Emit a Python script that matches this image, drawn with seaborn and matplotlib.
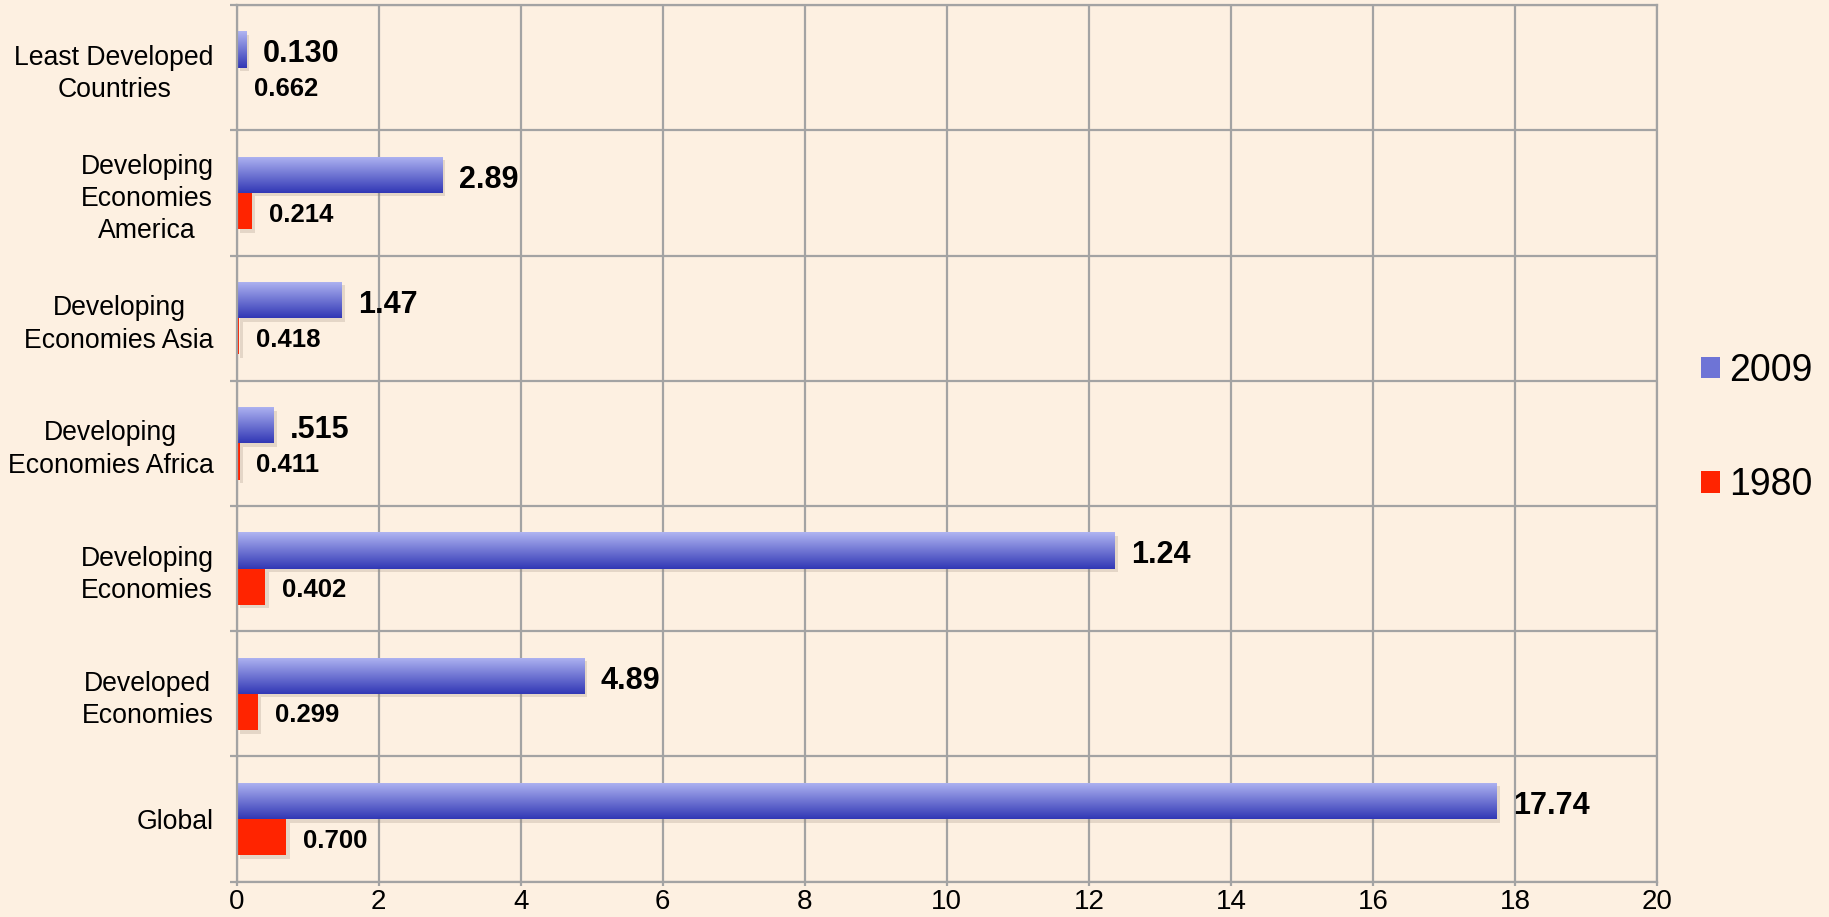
import numpy as np
import pandas as pd
import matplotlib
matplotlib.use("Agg")
import matplotlib.pyplot as plt
import seaborn as sns
from matplotlib.colors import LinearSegmentedColormap
from matplotlib.patches import Patch
import matplotlib.patheffects as pe

categories = ["Least Developed\nCountries", "Developing\nEconomies\nAmerica",
              "Developing\nEconomies Asia", "Developing\nEconomies Africa",
              "Developing\nEconomies", "Developed\nEconomies", "Global"]
values_2009 = [0.130, 2.89, 1.47, 0.515, 12.36, 4.89, 17.74]
values_1980 = [0.005, 0.214, 0.036, 0.040, 0.402, 0.299, 0.700]
labels_2009 = ["0.130", "2.89", "1.47", ".515", "1.24", "4.89", "17.74"]
labels_1980 = ["0.662", "0.214", "0.418", "0.411", "0.402", "0.299", "0.700"]
series = ["2009", "1980"]
x_ticks = [0, 2, 4, 6, 8, 10, 12, 14, 16, 18, 20]

BG = "#FDF0E1"
GRID = "#A3A3A3"
RED = "#FF2400"
BLUE_TOP = "#B0B5F2"
BLUE_BOT = "#3137B5"
BLUE_MID = "#6E74D6"

df = pd.DataFrame({
    "category": categories * 2,
    "value": values_2009 + values_1980,
    "year": ["2009"] * len(categories) + ["1980"] * len(categories),
})

sns.set_theme(style="white")
plt.rcParams["font.family"] = ["Liberation Sans", "DejaVu Sans"]
plt.rcParams["text.color"] = "black"

fig = plt.figure(figsize=(18.29, 9.17), dpi=100, facecolor=BG)
ax = fig.add_axes([0.1294, 0.0385, 0.9060 - 0.1294, 0.9945 - 0.0385])
ax.set_facecolor(BG)

sns.barplot(data=df, y="category", x="value", hue="year", hue_order=series,
            order=categories, orient="h", palette=[BLUE_MID, RED],
            width=0.58, gap=0, dodge=True, errorbar=None, ax=ax,
            legend=False, saturation=1, linewidth=0)

ax.set_xlim(0, 20)
ax.set_ylim(len(categories) - 0.5, -0.5)

cmap = LinearSegmentedColormap.from_list("bl", [BLUE_TOP, BLUE_BOT])
grad = np.linspace(0, 1, 256).reshape(-1, 1)

shadow = [pe.SimplePatchShadow(offset=(2.5, -2.5), shadow_rgbFace="#9a8a7a", alpha=0.25), pe.Normal()]

c2009, c1980 = ax.containers[0], ax.containers[1]
for bars, labs, fs, dy in [(c2009, labels_2009, 22, -3.5), (c1980, labels_1980, 18.5, -2.5)]:
    for p, lab in zip(bars, labs):
        p.set_path_effects(shadow)
        x, y = p.get_x(), p.get_y()
        w, h = p.get_width(), p.get_height()
        ax.annotate(lab, xy=(x + w, y + h / 2), xytext=(12, dy),
                    textcoords="offset points", ha="left", va="center",
                    fontsize=fs, fontweight="bold", color="black", zorder=5)

for p in c2009:
    x, y = p.get_x(), p.get_y()
    w, h = p.get_width(), p.get_height()
    im = ax.imshow(grad, extent=(x, x + w, y + h, y), aspect="auto",
                   cmap=cmap, origin="upper", zorder=p.get_zorder() + 0.1,
                   interpolation="bilinear")
    im.set_clip_path(p)

ax.set_xlim(0, 20)
ax.set_ylim(len(categories) - 0.5, -0.5)
ax.set_aspect("auto")

# grid
ax.set_xticks(x_ticks)
ax.set_xticklabels([str(t) for t in x_ticks])
ax.set_yticks(np.arange(len(categories)))
ax.set_yticks(np.arange(len(categories) + 1) - 0.5, minor=True)
ax.grid(False)
for xv in x_ticks:
    ax.axvline(xv, color=GRID, lw=1.6, zorder=0.5)
for yv in np.arange(len(categories) + 1) - 0.5:
    ax.axhline(yv, color=GRID, lw=1.6, zorder=0.5)
for s in ax.spines.values():
    s.set_color(GRID)
    s.set_linewidth(1.6)

ax.tick_params(axis="y", which="major", length=0, pad=16.5, labelsize=19.2, labelcolor="black")
ax.tick_params(axis="y", which="minor", length=5, width=1.6, color=GRID, left=True)
ax.tick_params(axis="x", which="major", length=3, width=1.6, color=GRID, pad=2.5,
               labelsize=20, labelcolor="black", bottom=True)
for t in ax.get_yticklabels():
    t.set_multialignment("center")
    t.set_linespacing(1.32)
ax.set_xlabel("")
ax.set_ylabel("")

handles = [Patch(facecolor=BLUE_MID, edgecolor="none"), Patch(facecolor=RED, edgecolor="none")]
fig.legend(handles, series, loc="center left", bbox_to_anchor=(1701 / 1829, 1 - 428 / 917),
           frameon=False, fontsize=27, handlelength=0.5, handleheight=0.5,
           handletextpad=0.25, labelspacing=2.1, borderpad=0, borderaxespad=0,
           labelcolor="black")

fig.savefig("out.png", dpi=100, facecolor=BG)
